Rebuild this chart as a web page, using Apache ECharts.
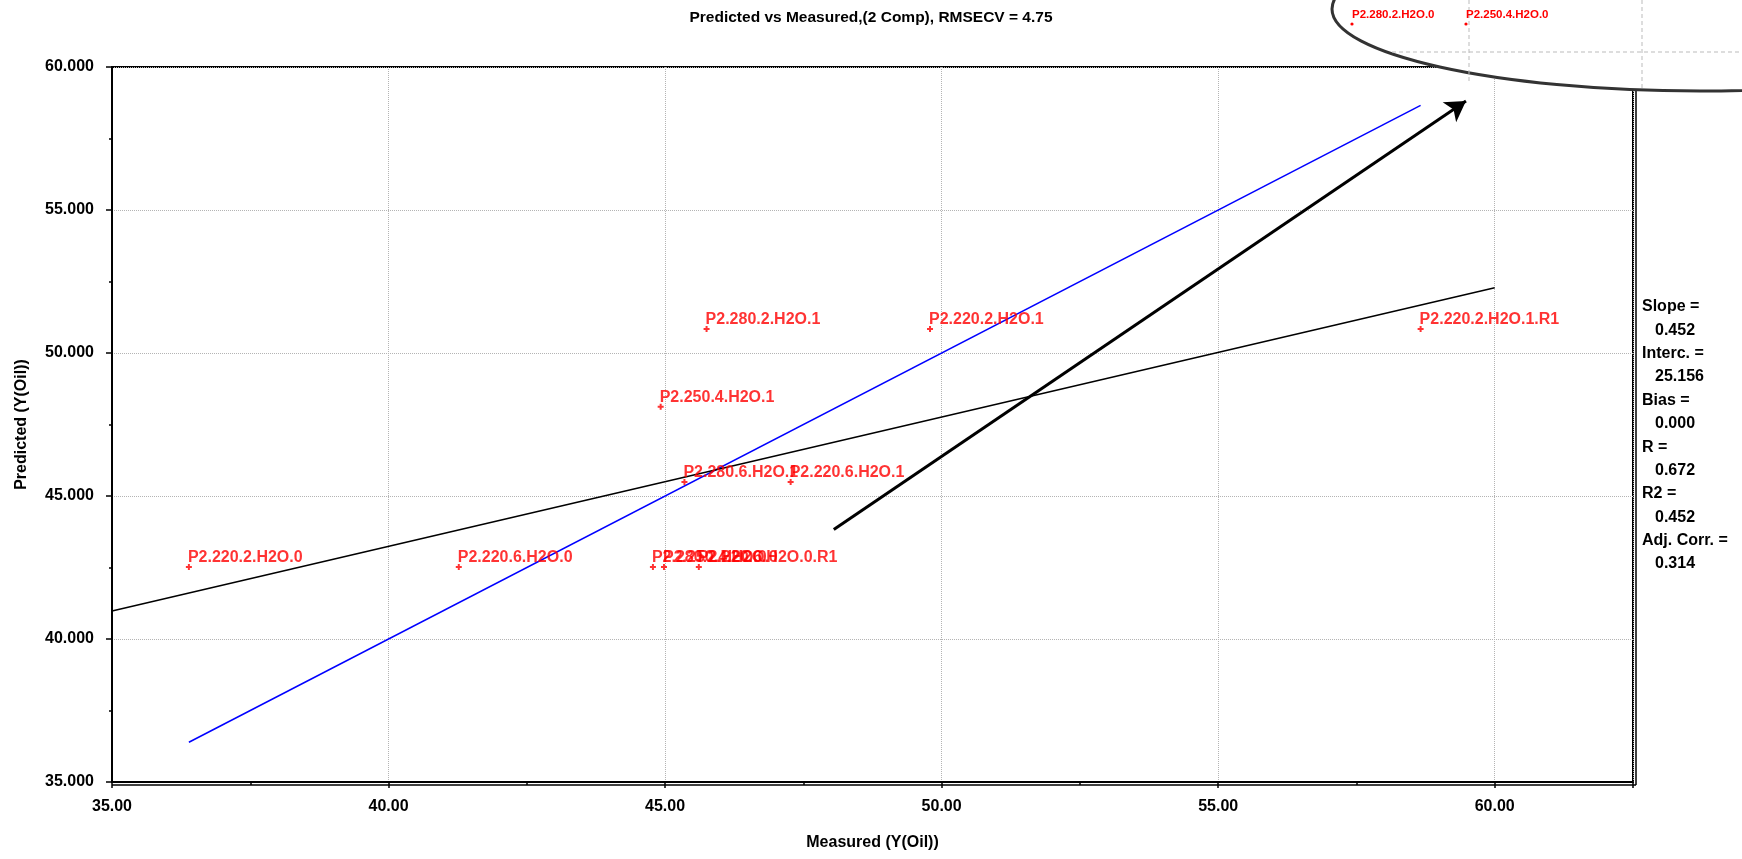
<!DOCTYPE html>
<html>
<head>
<meta charset="utf-8">
<title>Predicted vs Measured</title>
<script src="https://cdn.jsdelivr.net/npm/echarts@6/dist/echarts.min.js"></script>
<style>
  html, body { margin: 0; padding: 0; background: #fff; }
  #chart { width: 1742px; height: 859px; }
</style>
</head>
<body>
<div id="chart"></div>
<script>
  // 样本名称与坐标 (Measured, Predicted)
  var sampleNames = [
    'P2.220.2.H2O.0', 'P2.220.6.H2O.0', 'P2.280.2.H2O.1', 'P2.220.2.H2O.1',
    'P2.220.2.H2O.1.R1', 'P2.250.4.H2O.1', 'P2.280.6.H2O.1', 'P2.220.6.H2O.1',
    'P2.280.2.H2O.0', 'P2.250.4.H2O.0', 'P2.220.6.H2O.0.R1'
  ];
  var measured = [36.39, 41.27, 45.75, 49.79, 58.66, 44.92, 45.35, 47.27, 44.78, 44.98, 45.61];
  var predicted = [42.52, 42.52, 50.84, 50.84, 50.84, 48.12, 45.49, 45.49, 42.52, 42.52, 42.52];

  // 回归线 / 1:1 线 / 箭头 端点
  var regLine = [[35, 40.98], [60, 52.28]];
  var targetLine = [[36.39, 36.39], [58.66, 58.66]];
  var arrowLine = [[48.05, 43.83], [59.48, 58.81]];

  // 右侧统计
  var statNames = ['Slope =', 'Interc. =', 'Bias =', 'R =', 'R2 =', 'Adj. Corr. ='];
  var statValues = ['0.452', '25.156', '0.000', '0.672', '0.452', '0.314'];

  // 放大框里的标签
  var insetNames = ['P2.280.2.H2O.0', 'P2.250.4.H2O.0'];

  var FONT = '"Liberation Sans", Arial, sans-serif';
  var G = { left: 112, top: 67, right: 109, bottom: 77 };
  var W = 1742, H = 859;

  var myChart = echarts.init(document.getElementById('chart'));

  var points = measured.map(function (x, i) {
    return { name: sampleNames[i], value: [x, predicted[i]] };
  });

  var plus = 'path://M2,0h2v2h2v2h-2v2h-2v-2h-2v-2h2z';

  // 统计文字
  var graphics = [];
  statNames.forEach(function (n, i) {
    graphics.push({
      type: 'text', left: 1642, top: 308 + 46.7 * i - 9, z: 10,
      style: { text: n, font: 'bold 16px ' + FONT, fill: '#000' }
    });
    graphics.push({
      type: 'text', left: 1655, top: 308 + 46.7 * i + 23.3 - 9, z: 10,
      style: { text: statValues[i], font: 'bold 16px ' + FONT, fill: '#000' }
    });
  });

  // 双线边框
  graphics.push({
    type: 'line', z: 5, silent: true,
    shape: { x1: G.left, y1: H - G.bottom + 3, x2: W - G.right + 3, y2: H - G.bottom + 3 },
    style: { stroke: '#000', lineWidth: 1.5 }
  });
  graphics.push({
    type: 'line', z: 5, silent: true,
    shape: { x1: W - G.right + 3, y1: 80, x2: W - G.right + 3, y2: H - G.bottom + 3 },
    style: { stroke: '#000', lineWidth: 1.5 }
  });

  // 放大框（椭圆）
  graphics.push({
    type: 'ellipse', z: 20, silent: true,
    shape: { cx: 1700, cy: 9, rx: 368, ry: 82 },
    style: { fill: '#fff', stroke: '#333', lineWidth: 3 }
  });
  graphics.push({
    type: 'line', z: 21, silent: true,
    shape: { x1: 1392, y1: 52, x2: 1742, y2: 52 },
    style: { stroke: '#bbb', lineWidth: 1, lineDash: [4, 3] }
  });
  graphics.push({
    type: 'line', z: 21, silent: true,
    shape: { x1: 1469, y1: 0, x2: 1469, y2: 81 },
    style: { stroke: '#bbb', lineWidth: 1, lineDash: [4, 3] }
  });
  graphics.push({
    type: 'line', z: 21, silent: true,
    shape: { x1: 1642, y1: 0, x2: 1642, y2: 89 },
    style: { stroke: '#bbb', lineWidth: 1, lineDash: [4, 3] }
  });
  [1352, 1466].forEach(function (px, i) {
    graphics.push({
      type: 'text', left: px, top: 9, z: 22,
      style: { text: insetNames[i], font: 'bold 11.5px ' + FONT, fill: '#ff0000' }
    });
    graphics.push({
      type: 'circle', z: 22, silent: true,
      shape: { cx: px, cy: 24, r: 1.6 },
      style: { fill: '#ff0000' }
    });
  });

  var option = {
    animation: false,
    title: {
      text: 'Predicted vs Measured,(2 Comp), RMSECV = 4.75',
      left: 'center', top: 10, padding: 0,
      textStyle: { fontFamily: FONT, fontWeight: 'bold', fontSize: 15.5, color: '#000' }
    },
    grid: {
      left: G.left, top: G.top, right: G.right, bottom: G.bottom,
      show: true, borderColor: '#000', borderWidth: 2, containLabel: false
    },
    xAxis: {
      type: 'value', min: 35, max: 62.5, interval: 5,
      name: 'Measured (Y(Oil))', nameLocation: 'middle', nameGap: 53,
      nameTextStyle: { fontFamily: FONT, fontWeight: 'bold', fontSize: 16, color: '#000' },
      axisLine: { show: true, lineStyle: { color: '#000', width: 2 } },
      axisTick: { show: true, length: 6, lineStyle: { color: '#000', width: 1.5 } },
      minorTick: { show: true, splitNumber: 2, length: 3, lineStyle: { color: '#000', width: 1.5 } },
      axisLabel: {
        margin: 17, showMaxLabel: false,
        fontFamily: FONT, fontWeight: 'bold', fontSize: 16, color: '#000',
        formatter: function (v) { return v.toFixed(2); }
      },
      splitLine: { show: true, lineStyle: { color: '#b4b4b4', type: 'dotted', width: 1 } }
    },
    yAxis: {
      type: 'value', min: 35, max: 60, interval: 5,
      name: 'Predicted (Y(Oil))', nameLocation: 'middle', nameGap: 82,
      nameTextStyle: { fontFamily: FONT, fontWeight: 'bold', fontSize: 16, color: '#000' },
      axisLine: { show: true, lineStyle: { color: '#000', width: 2 } },
      axisTick: { show: true, length: 6, lineStyle: { color: '#000', width: 1.5 } },
      minorTick: { show: true, splitNumber: 2, length: 3, lineStyle: { color: '#000', width: 1.5 } },
      axisLabel: {
        margin: 18,
        fontFamily: FONT, fontWeight: 'bold', fontSize: 16, color: '#000',
        formatter: function (v) { return v.toFixed(3); }
      },
      splitLine: { show: true, lineStyle: { color: '#b4b4b4', type: 'dotted', width: 1 } }
    },
    series: [
      {
        name: 'target', type: 'line', data: targetLine, symbol: 'none',
        lineStyle: { color: '#0000ff', width: 1.5 }, z: 2, silent: true
      },
      {
        name: 'regression', type: 'line', data: regLine, symbol: 'none',
        lineStyle: { color: '#000', width: 1.5 }, z: 2, silent: true,
        markLine: {
          silent: true, symbol: ['none', 'arrow'], symbolSize: [18, 20],
          label: { show: false },
          lineStyle: { color: '#000', width: 3, type: 'solid' },
          data: [[{ coord: arrowLine[0] }, { coord: arrowLine[1] }]]
        }
      },
      {
        name: 'samples', type: 'scatter', data: points,
        symbol: plus, symbolSize: 6, z: 3,
        itemStyle: { color: '#ff0000' },
        label: {
          show: true, position: [2, -6], align: 'left', verticalAlign: 'middle',
          fontFamily: FONT, fontWeight: 'bold', fontSize: 16, color: '#ff0000',
          formatter: function (p) { return p.name; }
        },
        labelLayout: { hideOverlap: false }
      }
    ],
    graphic: graphics
  };

  myChart.setOption(option);
</script>
</body>
</html>
